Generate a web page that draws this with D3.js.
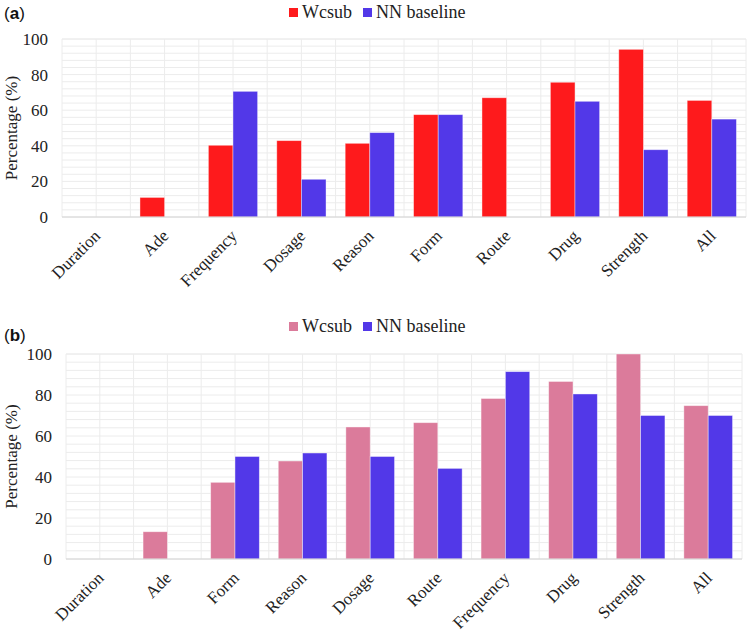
<!DOCTYPE html>
<html><head><meta charset="utf-8">
<script src="https://cdn.jsdelivr.net/npm/d3@7"></script>
<style>body{margin:0;background:#fff}svg{display:block}</style>
</head><body>
<svg id="chart" width="750" height="634"></svg>
<script>
const seriesNames = ["Wcsub", "NN baseline"];
const categoriesA = ["Duration","Ade","Frequency","Dosage","Reason","Form","Route","Drug","Strength","All"];
const wcsubA = [0, 11, 40.3, 42.9, 41.4, 57.5, 67, 75.7, 94.2, 65.5];
const nnA    = [0, 0, 70.6, 21.2, 47.4, 57.5, 0, 65, 37.8, 55];
const categoriesB = ["Duration","Ade","Form","Reason","Dosage","Route","Frequency","Drug","Strength","All"];
const wcsubB = [0, 13.3, 37.4, 47.8, 64.4, 66.5, 78.3, 86.6, 100, 74.8];
const nnB    = [0, 0, 50, 51.7, 50, 44.2, 91.4, 80.5, 70, 70];
const yTicks = [0, 20, 40, 60, 80, 100];
const yMinorStep = 4;

const SERIF = "Liberation Serif";
const svg = d3.select("#chart");

function panel(cfg) {
  const {label, labelY, legendY, left, right, top, bottom, cats, s1, s2, c1, c2} = cfg;
  const g = svg.append("g");
  const x = d3.scaleBand().domain(cats).range([left, right]).paddingInner(0.28).paddingOuter(0.14);
  const y = d3.scaleLinear().domain([0, 100]).range([bottom, top]);
  const sub = d3.scaleBand().domain(seriesNames).range([0, x.bandwidth()]);
  const step = x.step();

  g.append("g").selectAll("line").data(d3.range(0, 100 + 0.001, yMinorStep)).join("line")
    .attr("x1", left).attr("x2", right).attr("y1", d => y(d)).attr("y2", d => y(d))
    .attr("stroke", "#ececec").attr("stroke-width", 1);
  g.append("line").attr("x1", left).attr("x2", right).attr("y1", y(100)).attr("y2", y(100))
    .attr("stroke", "#ececec");
  const vpos = [];
  cats.forEach(c => { vpos.push(x(c) - step * 0.14); vpos.push(x(c) + x.bandwidth() / 2); });
  vpos.push(right);
  g.append("g").selectAll("line").data(vpos).join("line")
    .attr("x1", d => d).attr("x2", d => d).attr("y1", top).attr("y2", bottom)
    .attr("stroke", "#ececec");

  const data = cats.map((c, i) => ({c, vals: [{s: seriesNames[0], v: s1[i], col: c1}, {s: seriesNames[1], v: s2[i], col: c2}]}));
  const grp = g.append("g").selectAll("g").data(data).join("g")
    .attr("transform", d => `translate(${x(d.c)},0)`);
  grp.selectAll("rect").data(d => d.vals.filter(v => v.v > 0)).join("rect")
    .attr("x", d => sub(d.s)).attr("width", sub.bandwidth())
    .attr("y", d => y(d.v)).attr("height", d => y(0) - y(d.v))
    .attr("fill", d => d.col).attr("stroke", "rgba(255,255,255,0.5)").attr("stroke-width", 0.8);

  g.append("line").attr("x1", left).attr("x2", right).attr("y1", bottom).attr("y2", bottom)
    .attr("stroke", "#d4d4d4").attr("stroke-width", 1.2);

  const yAxis = d3.axisLeft(y).tickValues(yTicks).tickSize(0).tickPadding(0);
  const ya = g.append("g").attr("transform", `translate(${left - 14},0)`).call(yAxis)
    .attr("font-family", SERIF).attr("font-size", 17);
  ya.select(".domain").remove();
  ya.selectAll("text").attr("fill", "#222");

  g.append("g").attr("font-family", SERIF).attr("font-size", 17)
    .selectAll("text").data(cats).join("text")
    .attr("transform", d => `translate(${x(d) + x.bandwidth() / 2 + 5},${bottom + 20}) rotate(-45)`)
    .attr("text-anchor", "end").attr("fill", "#222")
    .text(d => d);

  g.append("text").attr("font-family", SERIF).attr("font-size", 17)
    .attr("transform", `translate(17,${(top + bottom) / 2}) rotate(-90)`)
    .attr("text-anchor", "middle").attr("fill", "#222")
    .text("Percentage (%)");

  const pl = g.append("text").attr("x", 4).attr("y", labelY)
    .attr("font-family", "Liberation Sans").attr("font-size", 17).attr("fill", "#111");
  pl.append("tspan").text("(");
  pl.append("tspan").attr("font-weight", "bold").text(label);
  pl.append("tspan").text(")");

  const leg = g.append("g").attr("font-family", SERIF).attr("font-size", 18);
  const items = [{name: seriesNames[0], col: c1, x: 289}, {name: seriesNames[1], col: c2, x: 363}];
  items.forEach(it => {
    leg.append("rect").attr("x", it.x).attr("y", legendY - 4).attr("width", 9).attr("height", 9).attr("fill", it.col);
    leg.append("text").attr("x", it.x + 13).attr("y", legendY).attr("dy", "0.35em")
      .attr("fill", "#222").text(it.name);
  });
}

panel({label: "a", labelY: 19, legendY: 12, left: 62, right: 746, top: 39, bottom: 217,
  cats: categoriesA, s1: wcsubA, s2: nnA, c1: "#fe1a1c", c2: "#5238e8"});
panel({label: "b", labelY: 341, legendY: 326, left: 66, right: 742, top: 354, bottom: 559,
  cats: categoriesB, s1: wcsubB, s2: nnB, c1: "#db7b9b", c2: "#5238e8"});
</script>
</body></html>
